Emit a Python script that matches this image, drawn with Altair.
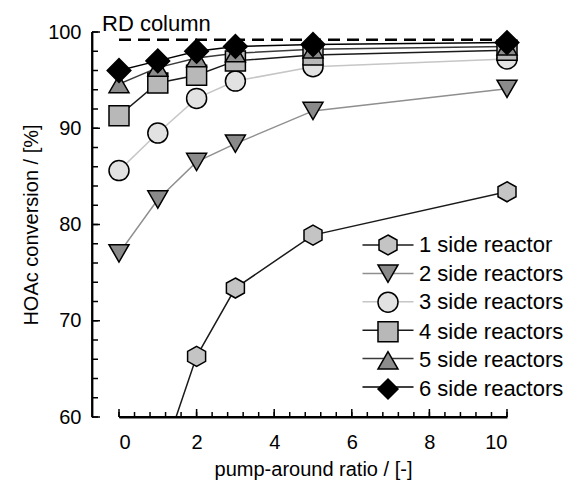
import altair as alt
import pandas as pd

FONT = "Liberation Sans"

# ---------------- data ----------------
series_names = ["1 side reactor", "2 side reactors", "3 side reactors",
                "4 side reactors", "5 side reactors", "6 side reactors"]
ratio_1 = [1, 2, 3, 5, 10]
conv_1 = [54.4, 66.3, 73.4, 78.9, 83.4]
ratio = [0, 1, 2, 3, 5, 10]
conv_2 = [77.0, 82.6, 86.5, 88.4, 91.8, 94.1]
conv_3 = [85.6, 89.5, 93.1, 94.9, 96.4, 97.2]
conv_4 = [91.3, 94.7, 95.5, 97.0, 97.6, 98.1]
conv_5 = [94.6, 96.3, 97.3, 97.8, 98.2, 98.5]
conv_6 = [96.0, 97.0, 98.0, 98.5, 98.7, 98.9]
rd_column = 99.2
rd_label = "RD column"

x_domain = [0, 10]
y_domain = [60, 100]
x_label_values = [0, 2, 4, 6, 8, 10]
y_label_values = [60, 70, 80, 90, 100]
x_minor_values = [round(0.4 * i, 1) for i in range(26)]
y_minor_values = list(range(60, 101, 2))

# ---------------- styles ----------------
line_colors = ["#1a1a1a", "#8f8f8f", "#c6c6c6", "#1a1a1a", "#3a3a3a", "#000000"]
fill_colors = ["#c4c4c4", "#8a8a8a", "#e2e2e2", "#b8b8b8", "#8c8c8c", "#000000"]
hexagon = "M0,-1L0.9,-0.5L0.9,0.5L0,1L-0.9,0.5L-0.9,-0.5Z"
shapes = [hexagon, "triangle-down", "circle", "square", "triangle-up", "diamond"]
AX_W = 1.8
TICK_W = 1.5
Y_AXIS_OFFSET = 27

rows = []
all_x = [ratio_1, ratio, ratio, ratio, ratio, ratio]
all_y = [conv_1, conv_2, conv_3, conv_4, conv_5, conv_6]
for name, xs_, ys_ in zip(series_names, all_x, all_y):
    for xv, yv in zip(xs_, ys_):
        rows.append({"series": name, "ratio": xv, "conv": yv})
df = pd.DataFrame(rows)
rd_df = pd.DataFrame({"x0": [x_domain[0]], "x1": [x_domain[1]], "y": [rd_column], "label": [rd_label]})
frame_df = pd.DataFrame({"x0": [x_domain[0]], "x1": [x_domain[1]],
                         "y0": [y_domain[0]], "y1": [y_domain[1]]})
xt_minor = pd.DataFrame({"v": x_minor_values, "b": y_domain[0]})
xt_major = pd.DataFrame({"v": x_label_values, "b": y_domain[0]})
yt_minor = pd.DataFrame({"v": y_minor_values, "b": x_domain[0]})
yt_major = pd.DataFrame({"v": y_label_values, "b": x_domain[0]})

xs = alt.Scale(domain=x_domain, nice=False, zero=False)
ys = alt.Scale(domain=y_domain, nice=False, zero=False)

LEG_X = 258
LEG_Y = 202
LEG_FONT = 22

pt_legend = alt.Legend(
    orient="none", legendX=LEG_X, legendY=LEG_Y, title=None, zindex=2,
    labelFont=FONT, labelFontSize=LEG_FONT, labelColor="black", labelOffset=20,
    labelLimit=400, padding=0, rowPadding=3.6, symbolSize=400,
    symbolStrokeWidth=1.5, symbolOpacity=1,
)
line_legend = alt.Legend(
    orient="none", legendX=LEG_X, legendY=LEG_Y, title=None, zindex=1,
    labelFont=FONT, labelFontSize=LEG_FONT, labelOpacity=0, labelOffset=20,
    labelLimit=400, padding=0, rowPadding=6.4, symbolSize=400,
    symbolType="M-2.55,0L2.55,0", symbolStrokeWidth=1.5,
)

# ---- axis lines and inward ticks, drawn through the shared scales ----
x_line = alt.Chart(frame_df).mark_rule(color="black", strokeWidth=AX_W).encode(
    x=alt.X("x0:Q", scale=xs, axis=None),
    x2="x1:Q",
    y=alt.Y("y0:Q", scale=ys, axis=None),
)
y_line = alt.Chart(frame_df).mark_rule(
    color="black", strokeWidth=AX_W, xOffset=-Y_AXIS_OFFSET
).encode(
    x=alt.X("x0:Q", scale=xs, axis=None),
    y=alt.Y("y0:Q", scale=ys, axis=None),
    y2="y1:Q",
)


def x_ticks(data, length):
    return alt.Chart(data).mark_rule(
        color="black", strokeWidth=TICK_W, y2Offset=-length
    ).encode(
        x=alt.X("v:Q", scale=xs, axis=None),
        y=alt.Y("b:Q", scale=ys, axis=None),
        y2="b:Q",
    )


def y_ticks(data, length):
    return alt.Chart(data).mark_rule(
        color="black", strokeWidth=TICK_W,
        xOffset=-Y_AXIS_OFFSET, x2Offset=-Y_AXIS_OFFSET + length
    ).encode(
        y=alt.Y("v:Q", scale=ys, axis=None),
        x=alt.X("b:Q", scale=xs, axis=None),
        x2="b:Q",
    )


# ---- data layers ----
lines = alt.Chart(df).transform_calculate(line_series="datum.series").mark_line(
    clip=True, strokeWidth=1.5
).encode(
    x=alt.X("ratio:Q", scale=xs, axis=alt.Axis(
        orient="bottom", values=x_label_values, ticks=False, domain=True,
        domainColor="black", domainWidth=AX_W, grid=False,
        labelFont=FONT, labelFontSize=20, labelColor="black", labelPadding=15,
        title="pump-around ratio / [-]", titleFont=FONT, titleFontSize=20,
        titleFontWeight="normal", titleColor="black", titlePadding=7)),
    y=alt.Y("conv:Q", scale=ys, axis=alt.Axis(
        orient="left", offset=Y_AXIS_OFFSET, values=y_label_values, ticks=False, domain=True,
        domainColor="black", domainWidth=AX_W,
        grid=False, labelFont=FONT, labelFontSize=20, labelColor="black", labelPadding=11,
        title="HOAc conversion / [%]", titleFont=FONT, titleFontSize=20,
        titleFontWeight="normal", titleColor="black", titlePadding=6)),
    stroke=alt.Stroke("line_series:N", scale=alt.Scale(range=line_colors), legend=line_legend),
)

points = alt.Chart(df).transform_filter("datum.conv >= 60").mark_point(
    filled=False, stroke="black", strokeWidth=1.5, opacity=1, fillOpacity=1
).encode(
    x=alt.X("ratio:Q", scale=xs, axis=None),
    y=alt.Y("conv:Q", scale=ys, axis=None),
    shape=alt.Shape("series:N", scale=alt.Scale(range=shapes), legend=pt_legend),
    fill=alt.Fill("series:N", scale=alt.Scale(range=fill_colors), legend=pt_legend),
    size=alt.condition("datum.series == '6 side reactors'", alt.value(560), alt.value(400)),
)

rd_rule = alt.Chart(rd_df).mark_rule(color="black", strokeWidth=2.5, strokeDash=[12, 7]).encode(
    x=alt.X("x0:Q", scale=xs, axis=None),
    x2="x1:Q",
    y=alt.Y("y:Q", scale=ys, axis=None),
)
rd_text = alt.Chart(rd_df).mark_text(
    align="left", baseline="alphabetic", dx=-17, dy=-9, font=FONT, fontSize=22, color="black"
).encode(
    x=alt.X("x0:Q", scale=xs, axis=None),
    y=alt.Y("y:Q", scale=ys, axis=None),
    text="label:N",
)

chart = alt.layer(
    lines, x_line, y_line,
    x_ticks(xt_minor, 5), x_ticks(xt_major, 8),
    y_ticks(yt_minor, 6), y_ticks(yt_major, 8),
    points, rd_rule, rd_text,
).resolve_axis(
    x="independent", y="independent"
).properties(
    width=388, height=385,
    autosize=alt.AutoSizeParams(type="none"),
    padding={"left": 111, "top": 24, "right": 60, "bottom": 63},
    background="white",
).configure_view(stroke=None)

chart.save("out.html", embed_options={"renderer": "svg", "actions": False})
